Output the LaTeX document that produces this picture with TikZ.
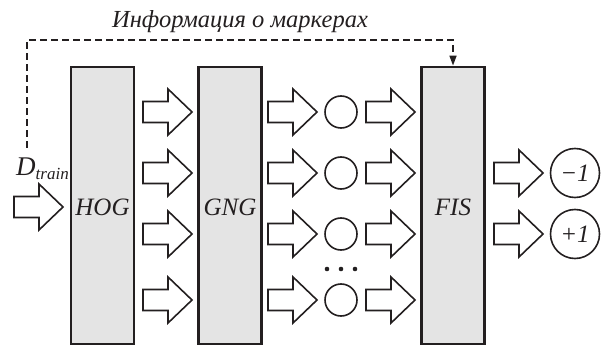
\documentclass[tikz,border=0pt]{standalone}
\usepackage{fontspec}
\setmainfont{Liberation Serif}
\usetikzlibrary{arrows.meta}
\definecolor{ink}{HTML}{231F20}
\definecolor{boxfill}{HTML}{E4E4E4}

\begin{document}
\begin{tikzpicture}[x=1pt, y=-1pt,
  stage/.style={draw=ink, line width=2.8pt, fill=boxfill,
                minimum width=63pt, minimum height=277pt, inner sep=0pt},
  hollow/.style={draw=ink, line width=1.6pt, fill=white, line join=miter},
  lbl/.style={font=\fontsize{25}{25}\selectfont\itshape, text=ink, inner sep=0pt},
  token/.style={circle, draw=ink, line width=1.6pt, minimum size=32pt, inner sep=0pt},
  outcome/.style={circle, draw=ink, line width=1.6pt, minimum size=49pt, inner sep=0pt,
                  font=\fontsize{25}{25}\selectfont\itshape, text=ink},
  dot/.style={circle, fill=ink, minimum size=4.6pt, inner sep=0pt},
  feedback/.style={draw=ink, line width=1.6pt, dash pattern=on 7pt off 4pt,
                   -{Triangle[length=10pt, width=7pt]}},
  blockarrow/.pic={
    \draw[hollow] (0,-10.5) -- (25,-10.5) -- (25,-23) -- (49,0) -- (25,23)
                  -- (25,10.5) -- (0,10.5) -- cycle;}
]
\useasboundingbox (0,0) rectangle (604,347);

% processing stages
\node[stage] (hog) at (102.5,205.5) {};
\node[stage] (gng) at (230,205.5) {};
\node[stage] (fis) at (453,205.5) {};
\node[lbl] (hogtxt) at (102.5,207) {HOG};
\node[lbl] (gngtxt) at (230,207) {GNG};
\node[lbl] (fistxt) at (453,207) {FIS};

% input
\node[font=\itshape, text=ink, anchor=base west, inner sep=0pt] (din) at (16,176)
  {\fontsize{27}{27}\selectfont D\raisebox{-3.5pt}{\fontsize{17}{17}\selectfont train}};
\pic at (14,207) {blockarrow};

% neuron rows
\foreach \y/\n in {112/1,173/2,234/3,300/4} {
  \pic at (143,\y) {blockarrow};
  \pic at (268,\y) {blockarrow};
  \node[token] (n\n) at (341,\y) {};
  \pic at (366,\y) {blockarrow};
}
\node[dot] (d1) at (327,269) {};
\node[dot] (d2) at (341,269) {};
\node[dot] (d3) at (355,269) {};

% outputs
\pic at (494,173) {blockarrow};
\pic at (494,234) {blockarrow};
\node[outcome] (neg) at (575,173) {−1};
\node[outcome] (pos) at (575,234) {+1};

% marker information fed to the inference system
\node[font=\fontsize{24.5}{24.5}\selectfont\itshape, text=ink, inner sep=0pt, anchor=base]
  (info) at (240,28) {Информация о маркерах};
\coordinate (fbstart) at (27,148);
\draw[feedback] (fbstart) -- (27,40) -| (fis.north);
\end{tikzpicture}
\end{document}
